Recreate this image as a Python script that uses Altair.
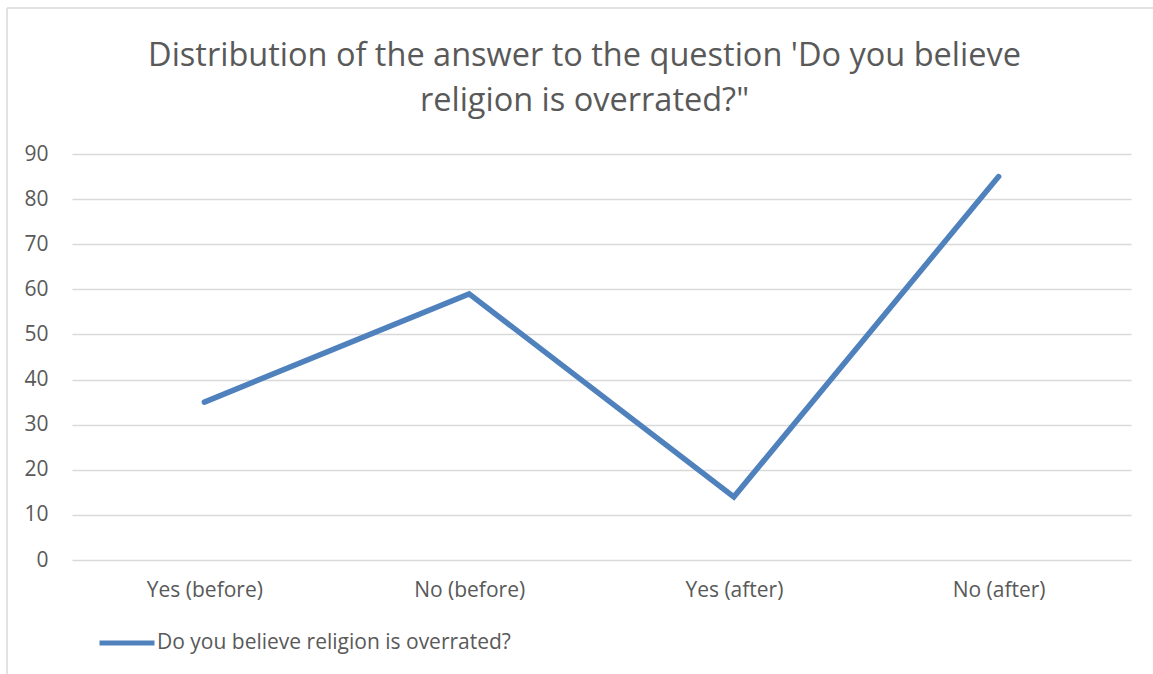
import altair as alt
import pandas as pd

categories = ["Yes (before)", "No (before)", "Yes (after)", "No (after)"]
values = [35, 59, 14, 85]
series_name = "Do you believe religion is overrated?"
y_ticks = [0, 10, 20, 30, 40, 50, 60, 70, 80, 90]

df = pd.DataFrame({"cat": categories, "val": values, "series": [series_name] * len(categories)})

FONT = "Open Sans"
GREY = "#595959"
BLUE = "#4F81BD"
LFS = 21

line = alt.Chart(df).mark_line(strokeWidth=5.5, strokeCap="round", strokeJoin="miter", color=BLUE).encode(
    x=alt.X("cat:N", sort=categories, title=None,
            scale=alt.Scale(paddingInner=0, paddingOuter=0.5),
            axis=alt.Axis(labelAngle=0, domain=False, ticks=False, labelPadding=19,
                          labelFontSize=LFS, labelColor=GREY, labelFont=FONT, grid=False)),
    y=alt.Y("val:Q", title=None, scale=alt.Scale(domain=[0, 90], nice=False),
            axis=alt.Axis(values=y_ticks, domain=False, ticks=False, labelPadding=24,
                          labelFontSize=LFS, labelColor=GREY, labelFont=FONT,
                          gridColor="#d9d9d9", gridWidth=1.5)),
    color=alt.Color("series:N", scale=alt.Scale(range=[BLUE]),
                    legend=alt.Legend(title=None, orient="none", legendX=25, legendY=459,
                                      symbolType="stroke", symbolSize=3025, symbolStrokeWidth=5,
                                      labelFontSize=LFS, labelColor=GREY, labelFont=FONT,
                                      labelLimit=0, labelOffset=0, symbolOffset=0, padding=0)),
)

border_df = pd.DataFrame({"k": [1]})
left_border = alt.Chart(border_df).mark_rule(color="#d9d9d9", strokeWidth=1.5).encode(
    x=alt.value(-65), y=alt.value(-146), y2=alt.value(530))
top_border = alt.Chart(border_df).mark_rule(color="#d9d9d9", strokeWidth=1.5).encode(
    x=alt.value(-65), x2=alt.value(1090), y=alt.value(-146))

chart = alt.layer(left_border, top_border, line).properties(
    width=1059, height=406,
    padding={"left": 72, "top": 154, "right": 22, "bottom": 114},
    autosize=alt.AutoSizeParams(type="none"),
    background="white",
    title=alt.TitleParams(
        text=["Distribution of the answer to the question 'Do you believe", "religion is overrated?\""],
        fontSize=32.5, font=FONT, color=GREY, fontWeight="normal",
        anchor="middle", dx=-17, offset=0, dy=143, baseline="bottom", lineHeight=45),
).configure_view(stroke=None)

chart.save("out.html", embed_options={"renderer": "svg", "actions": False})
